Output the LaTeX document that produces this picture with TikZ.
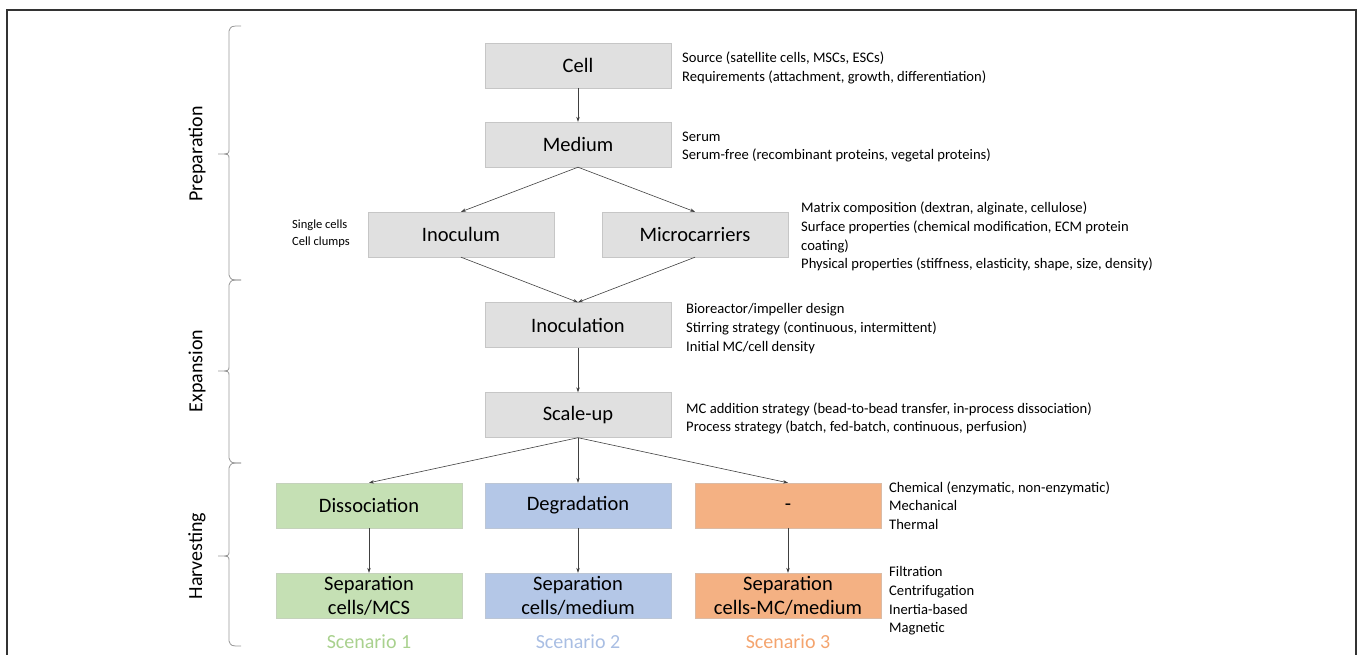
\documentclass[tikz,border=0pt]{standalone}
\usepackage{fontspec}
\setmainfont{Carlito}
\usepackage{tikz}
\usetikzlibrary{arrows.meta, positioning}

\definecolor{boxgray}{HTML}{E0E0E0}
\definecolor{boxline}{HTML}{C6C6C6}
\definecolor{scgreen}{HTML}{C5E0B4}
\definecolor{scblue}{HTML}{B4C7E7}
\definecolor{scorange}{HTML}{F4B183}
\definecolor{txtgreen}{HTML}{A9D18E}
\definecolor{txtblue}{HTML}{A9BEE3}
\definecolor{txtorange}{HTML}{F4A46E}

\begin{document}
\begin{tikzpicture}[x=1pt, y=-1pt,
    stage/.style={draw=boxline, fill=boxgray, minimum width=186pt, minimum height=45pt,
      inner sep=0pt, align=center, font=\fontsize{20.5}{24}\selectfont},
    green/.style={stage, fill=scgreen, draw=scgreen!80!black!60},
    blue/.style={stage, fill=scblue, draw=scblue!80!black!60},
    orange/.style={stage, fill=scorange, draw=scorange!80!black!60},
    note/.style={anchor=north west, inner sep=0pt, align=left, font=\fontsize{14.6}{18.6}\selectfont},
    link/.style={draw=black!75, line width=0.6pt, -{Stealth[length=5pt,width=3.5pt]}},
    phase/.style={rotate=90, font=\fontsize{20}{24}\selectfont},
    scen/.style={font=\fontsize{20}{24}\selectfont}]

    \useasboundingbox (0,0) rectangle (1358,654);
    \draw[line width=1.2pt, black!80] (7,10) rectangle (1356,680);

    % phases
    \foreach \a/\m/\b/\ph/\txt in {26/154/280/prep/Preparation, 280/371/463/expa/Expansion, 463/556/646/harv/Harvesting} {
        \draw[black!40, line width=0.8pt] (241,\a) .. controls (231,\a) .. (229,\a+5) -- (229,\m-5)
            .. controls (229,\m) .. (218,\m) .. controls (229,\m) .. (229,\m+5) -- (229,\b-5)
            .. controls (231,\b) .. (241,\b);
        \node[phase] (\ph) at (197,\m) {\txt};
    }

    % main chain
    \node[stage] (cell) at (578,65.5) {Cell};
    \node[stage] (medium) at (578,144.5) {Medium};
    \node[stage] (inoculum) at (461,234.5) {Inoculum};
    \node[stage] (carriers) at (695,234.5) {Microcarriers};
    \node[stage] (inoculation) at (578,325) {Inoculation};
    \node[stage] (scaleup) at (578,415) {Scale-up};

    % scenarios
    \node[green] (dissoc) at (369,505.5) {Dissociation};
    \node[blue] (degrad) at (578,505.5) {Degradation};
    \node[orange] (nostep) at (788,505.5) {\vphantom{Dg}-};
    \node[green] (sepone) at (369,595.5) {Separation\\cells/MCS};
    \node[blue] (septwo) at (578,595.5) {Separation\\cells/medium};
    \node[orange] (septhree) at (788,595.5) {Separation\\cells-MC/medium};
    \node[scen, text=txtgreen] (scone) at (369,642) {Scenario 1};
    \node[scen, text=txtblue] (sctwo) at (578,642) {Scenario 2};
    \node[scen, text=txtorange] (scthree) at (788,642) {Scenario 3};

    \draw[link] (cell) -- (medium);
    \draw[link] (medium.south) -- (inoculum.north);
    \draw[link] (medium.south) -- (carriers.north);
    \draw[link] (inoculum.south) -- (inoculation.north);
    \draw[link] (carriers.south) -- (inoculation.north);
    \draw[link] (inoculation) -- (scaleup);
    \draw[link] (scaleup.south) -- (dissoc.north);
    \draw[link] (scaleup.south) -- (degrad.north);
    \draw[link] (scaleup.south) -- (nostep.north);
    \draw[link] (dissoc) -- (sepone);
    \draw[link] (degrad) -- (septwo);
    \draw[link] (nostep) -- (septhree);

    % notes
    \node[note] (cellnote) at (682,52) {Source (satellite cells, MSCs, ESCs)\\Requirements (attachment, growth, differentiation)};
    \node[note] (mednote) at (682,131.5) {Serum\\Serum-free (recombinant proteins, vegetal proteins)};
    \node[note, font=\fontsize{12.5}{16.5}\selectfont] (inocnote) at (292,220) {Single cells\\Cell clumps};
    \node[note] (carnote) at (801,202) {Matrix composition (dextran, alginate, cellulose)\\Surface properties (chemical modification, ECM protein\\coating)\\Physical properties (stiffness, elasticity, shape, size, density)};
    \node[note] (inocunote) at (686,303.5) {Bioreactor/impeller design\\Stirring strategy (continuous, intermittent)\\Initial MC/cell density};
    \node[note] (scalenote) at (686,402.5) {MC addition strategy (bead-to-bead transfer, in-process dissociation)\\Process strategy (batch, fed-batch, continuous, perfusion)};
    \node[note] (harvnote) at (889,481.5) {Chemical (enzymatic, non-enzymatic)\\Mechanical\\Thermal};
    \node[note] (sepnote) at (889,566.5) {Filtration\\Centrifugation\\Inertia-based\\Magnetic};
\end{tikzpicture}
\end{document}
